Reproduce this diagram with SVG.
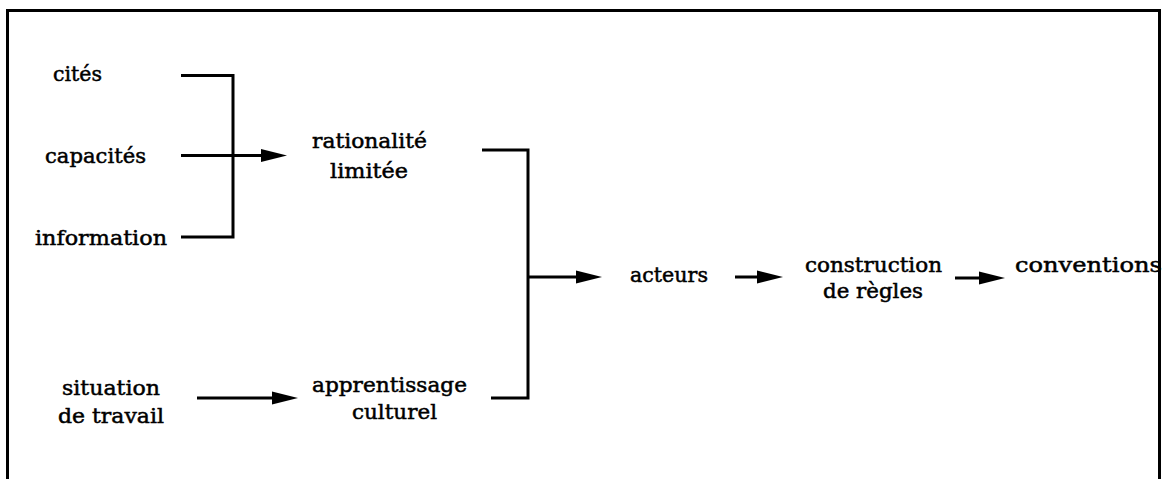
<svg xmlns="http://www.w3.org/2000/svg" width="1162" height="479" viewBox="0 0 1162 479">
  <style>
    text { font-family: "DejaVu Serif", "Liberation Serif", serif; font-size: 21px; fill: #000; stroke: #000; stroke-width: 0.5; }
    .c { fill: none; stroke: #000; stroke-width: 3; stroke-linejoin: miter; stroke-linecap: butt; }
    .frame { fill: none; stroke: #000; stroke-width: 3; }
  </style>
  <defs>
    <marker id="ah" markerUnits="userSpaceOnUse" markerWidth="27" markerHeight="14" refX="11" refY="7" orient="auto">
      <path d="M0,0.5 L26,7 L0,13.5 z" fill="#000"/>
    </marker>
  </defs>
  <rect width="1162" height="479" fill="#fff"/>

  <g id="n-cites"><text x="53" y="81" textLength="49" lengthAdjust="spacingAndGlyphs">cités</text></g>
  <g id="n-capacites"><text x="45" y="163" textLength="101" lengthAdjust="spacingAndGlyphs">capacités</text></g>
  <g id="n-information"><text x="35" y="245" textLength="132" lengthAdjust="spacingAndGlyphs">information</text></g>
  <g id="n-rationalite">
    <text x="312" y="148" textLength="115" lengthAdjust="spacingAndGlyphs">rationalité</text>
    <text x="330" y="178" textLength="78" lengthAdjust="spacingAndGlyphs">limitée</text>
  </g>
  <g id="n-situation">
    <text x="62" y="395" textLength="98" lengthAdjust="spacingAndGlyphs">situation</text>
    <text x="58" y="423" textLength="106" lengthAdjust="spacingAndGlyphs">de travail</text>
  </g>
  <g id="n-apprentissage">
    <text x="312" y="392" textLength="155" lengthAdjust="spacingAndGlyphs">apprentissage</text>
    <text x="352" y="419" textLength="85" lengthAdjust="spacingAndGlyphs">culturel</text>
  </g>
  <g id="n-acteurs"><text x="630" y="282" textLength="78" lengthAdjust="spacingAndGlyphs">acteurs</text></g>
  <g id="n-construction">
    <text x="805" y="272" textLength="137" lengthAdjust="spacingAndGlyphs">construction</text>
    <text x="823" y="298" textLength="100" lengthAdjust="spacingAndGlyphs">de règles</text>
  </g>
  <g id="n-conventions"><text x="1015" y="272" textLength="147" lengthAdjust="spacingAndGlyphs">conventions</text></g>

  <g id="connectors">
    <path class="c" d="M181,75.5 H233 V237 H181"/>
    <path class="c" d="M181,155.5 H272" marker-end="url(#ah)"/>
    <path class="c" d="M482,150 H528 V398 H491"/>
    <path class="c" d="M528,277 H587" marker-end="url(#ah)"/>
    <path class="c" d="M197,398 H283" marker-end="url(#ah)"/>
    <path class="c" d="M735,277 H768" marker-end="url(#ah)"/>
    <path class="c" d="M955,278 H990" marker-end="url(#ah)"/>
  </g>

  <path id="frame" class="frame" d="M7.5,485 V10.5 H1159.5 V485"/>
</svg>
